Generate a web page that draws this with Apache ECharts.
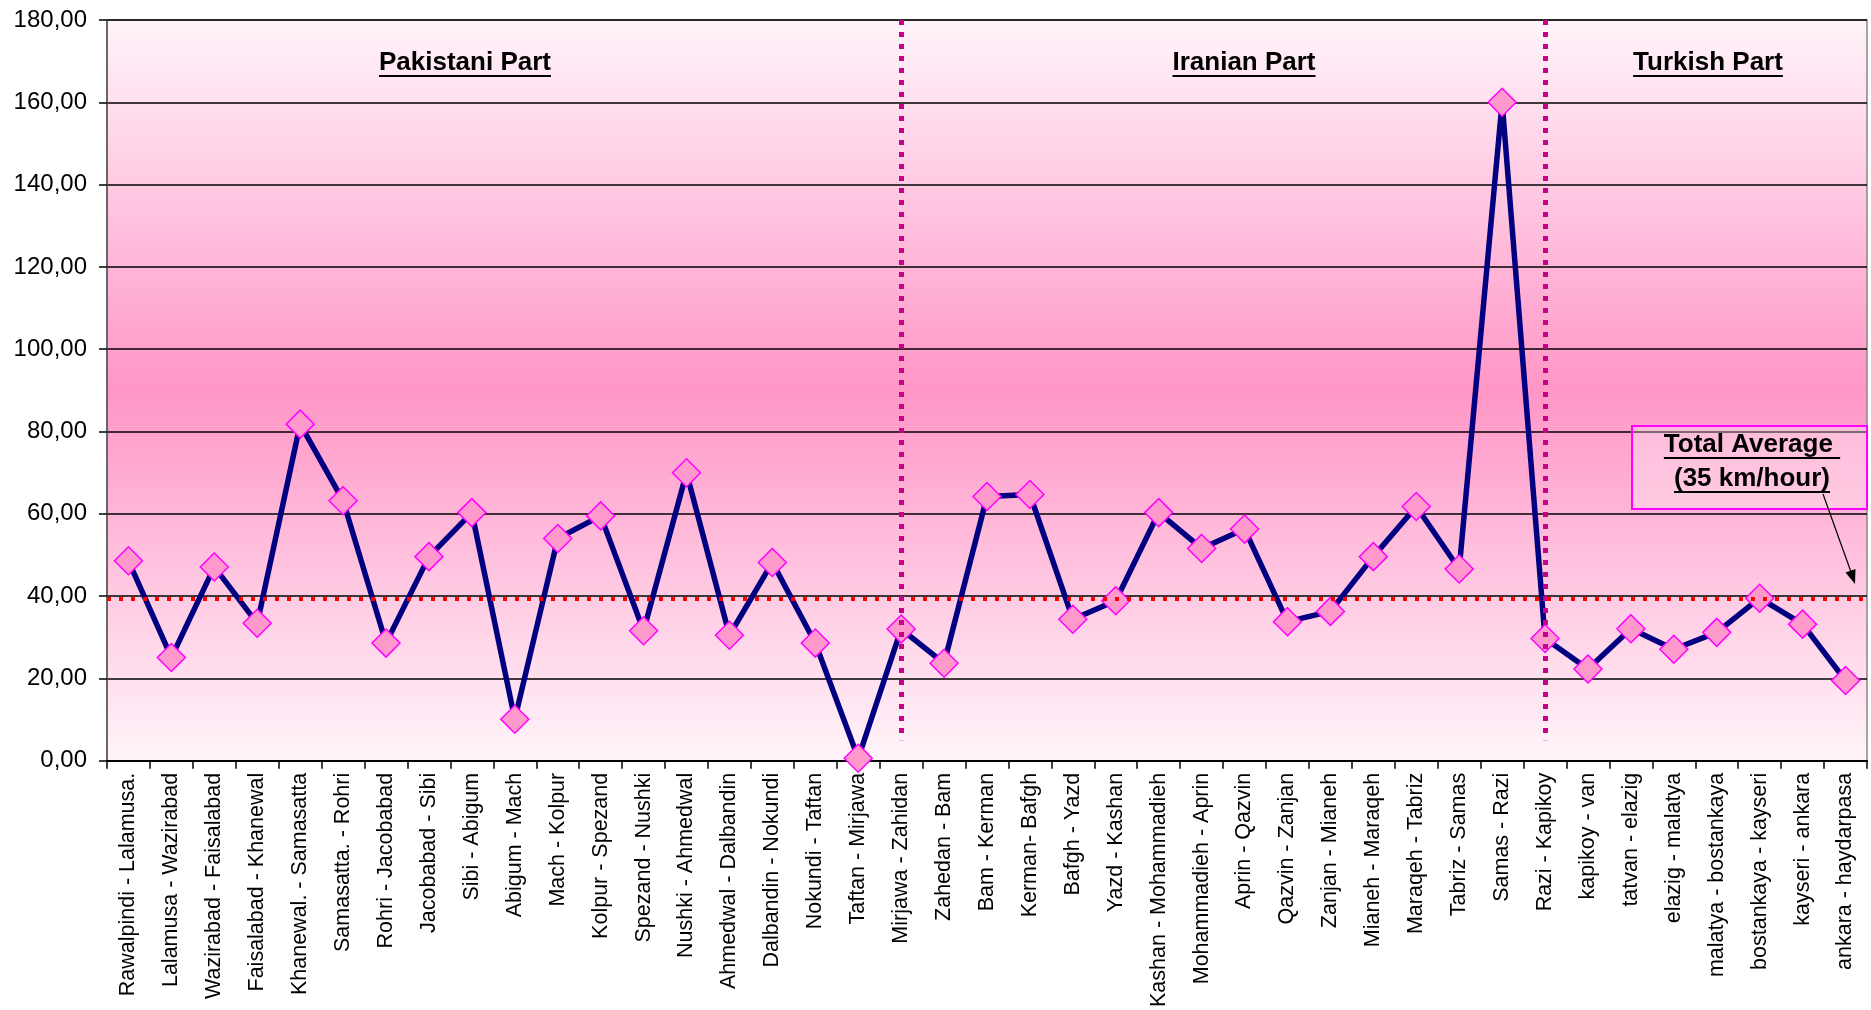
<!DOCTYPE html>
<html>
<head>
<meta charset="utf-8">
<script src="https://cdn.jsdelivr.net/npm/echarts@6/dist/echarts.min.js"></script>
<style>
html,body{margin:0;padding:0;background:#fff;}
#c{width:1871px;height:1010px;}
</style>
</head>
<body>
<div id="c"></div>
<script>
const categories = [
  'Rawalpindi - Lalamusa.','Lalamusa - Wazirabad','Wazirabad - Faisalabad','Faisalabad - Khanewal',
  'Khanewal. - Samasatta','Samasatta. - Rohri','Rohri - Jacobabad','Jacobabad - Sibi','Sibi - Abigum',
  'Abigum - Mach','Mach - Kolpur','Kolpur - Spezand','Spezand - Nushki','Nushki - Ahmedwal',
  'Ahmedwal - Dalbandin','Dalbandin - Nokundi','Nokundi - Taftan','Taftan - Mirjawa','Mirjawa - Zahidan',
  'Zahedan - Bam','Bam - Kerman','Kerman- Bafgh','Bafgh - Yazd','Yazd - Kashan','Kashan - Mohammadieh',
  'Mohammadieh - Aprin','Aprin - Qazvin','Qazvin - Zanjan','Zanjan - Mianeh','Mianeh - Maraqeh',
  'Maraqeh - Tabriz','Tabriz - Samas','Samas - Razi','Razi - Kapikoy','kapikoy - van','tatvan - elazig',
  'elazig - malatya','malatya - bostankaya','bostankaya - kayseri','kayseri - ankara','ankara - haydarpasa'
];
const speeds = [
  48.6, 25.1, 47.1, 33.4, 81.8, 63.2, 28.6, 49.6, 60.3, 10.1,
  54.0, 59.5, 31.6, 70.0, 30.5, 48.2, 28.6, 0.6, 32.0,
  23.7, 64.2, 64.7, 34.4, 38.9, 60.3, 51.6, 56.3, 33.8, 36.3,
  49.6, 61.8, 46.6, 160.0, 29.7,
  22.3, 32.1, 27.1, 31.2, 39.5, 33.2, 19.5
];
const averageLine = 39.3;
const dividers = ['Mirjawa - Zahidan', 'Razi - Kapikoy'];
const dividerRange = [180, 5];
const partTitles = ['Pakistani Part', 'Iranian Part', 'Turkish Part'];
const noteLines = ['Total Average ', '(35 km/hour)'];
const yTicks = {min: 0, max: 180, interval: 20};

const FONT = '"Liberation Sans", Arial, sans-serif';
const chart = echarts.init(document.getElementById('c'));

const mctx = document.createElement('canvas').getContext('2d');
function tw(t, f) { mctx.font = f; return mctx.measureText(t).width; }
const titleFont = 'bold 26px ' + FONT;

const titlePos = [[465, 63], [1244, 63], [1708, 63]];
const graphics = [];
partTitles.forEach((t, i) => {
  const [cx, cy] = titlePos[i];
  const w = tw(t, titleFont);
  graphics.push({type: 'text', z: 100, style: {text: t, x: cx, y: cy, font: titleFont, fill: '#000', textAlign: 'center', textVerticalAlign: 'middle'}});
  graphics.push({type: 'line', z: 100, shape: {x1: cx - w / 2, y1: cy + 13, x2: cx + w / 2, y2: cy + 13}, style: {stroke: '#000', lineWidth: 2}});
});
// annotation box
graphics.push({type: 'rect', z: 90, shape: {x: 1632, y: 426, width: 235, height: 83}, style: {fill: 'rgba(255,255,255,0.3)', stroke: '#ff00ff', lineWidth: 2}});
const noteY = [445, 479];
noteLines.forEach((t, i) => {
  const cx = 1752;
  const w = tw(t, titleFont);
  graphics.push({type: 'text', z: 100, style: {text: t, x: cx, y: noteY[i], font: titleFont, fill: '#000', textAlign: 'center', textVerticalAlign: 'middle'}});
  graphics.push({type: 'line', z: 100, shape: {x1: cx - w / 2, y1: noteY[i] + 13, x2: cx + w / 2, y2: noteY[i] + 13}, style: {stroke: '#000', lineWidth: 2}});
});
graphics.push({type: 'line', z: 100, shape: {x1: 1823, y1: 494, x2: 1851, y2: 572}, style: {stroke: '#000', lineWidth: 1.2}});
graphics.push({type: 'polygon', z: 100, shape: {points: [[1855, 584], [1855.5, 569], [1845.5, 572.5]]}, style: {fill: '#000'}});

const option = {
  animation: false,
  backgroundColor: '#fff',
  grid: {
    left: 107, right: 4, top: 20, bottom: 248,
    show: true,
    borderColor: '#888', borderWidth: 1.5,
    backgroundColor: new echarts.graphic.LinearGradient(0, 0, 0, 1, [
      {offset: 0, color: '#fff4fa'},
      {offset: 0.5, color: '#ff96c6'},
      {offset: 1, color: '#fff5fa'}
    ])
  },
  xAxis: {
    type: 'category',
    data: categories,
    boundaryGap: true,
    axisLine: {lineStyle: {color: '#000', width: 2}},
    axisTick: {show: true, length: 8, lineStyle: {color: '#000', width: 1.5}},
    axisLabel: {rotate: 90, interval: 0, margin: 12, fontSize: 21.5, fontFamily: FONT, color: '#000'},
    splitLine: {show: false}
  },
  yAxis: {
    type: 'value',
    min: yTicks.min, max: yTicks.max, interval: yTicks.interval,
    axisLine: {show: true, lineStyle: {color: '#555', width: 1.5}},
    axisTick: {show: true, length: 8, lineStyle: {color: '#000', width: 1.5}},
    axisLabel: {margin: 20, fontSize: 24, fontFamily: FONT, color: '#000',
      formatter: v => v.toFixed(2).replace('.', ',')},
    splitLine: {show: true, lineStyle: {color: '#000', width: 1.5}}
  },
  series: [
    {
      type: 'line',
      data: speeds,
      z: 3,
      symbol: 'diamond',
      symbolSize: 28,
      lineStyle: {color: '#000080', width: 5.5},
      itemStyle: {color: '#ff99cc', borderColor: '#ff00ff', borderWidth: 1.5},
      emphasis: {disabled: true}
    },
    {
      type: 'line',
      data: categories.map(() => null),
      z: 10,
      symbol: 'none',
      silent: true,
      markLine: {
        silent: true,
        symbol: 'none',
        label: {show: false},
        animation: false,
        data: [
          {yAxis: averageLine, lineStyle: {color: '#ff0000', width: 4, type: [4, 8], cap: 'butt'}},
          ...dividers.map(d => [
            {coord: [d, dividerRange[0]], lineStyle: {color: '#c8008c', width: 5, type: [5, 7], cap: 'butt'}},
            {coord: [d, dividerRange[1]]}
          ])
        ]
      }
    }
  ],
  graphic: graphics
};
chart.setOption(option);
</script>
</body>
</html>
